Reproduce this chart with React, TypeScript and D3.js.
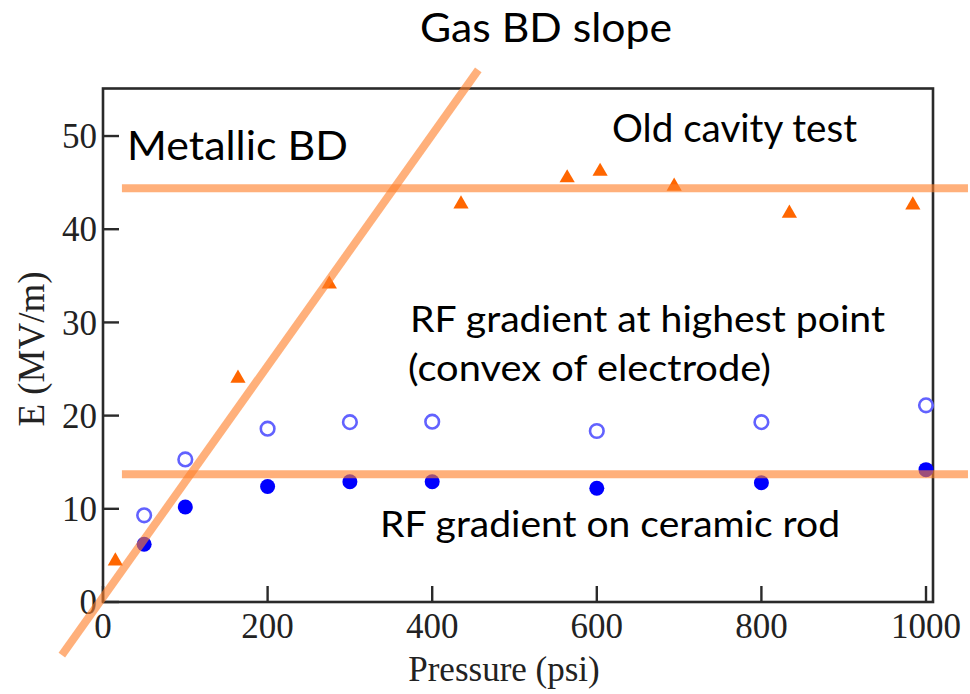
import * as d3 from "d3";

const xTicks = [0, 200, 400, 600, 800, 1000];
const yTicks = [0, 10, 20, 30, 40, 50];

// old cavity test (triangles)
const oldCavityP = [15, 164, 275, 435, 564, 604, 694, 834, 984];
const oldCavityE = [4.4, 24.0, 34.1, 42.7, 45.5, 46.2, 44.6, 41.7, 42.6];

// RF gradient, new cavity
const rfPressure = [50, 100, 200, 300, 400, 600, 800, 1000];
const highestPointE = [9.3, 15.3, 18.6, 19.3, 19.35, 18.35, 19.3, 21.1];
const ceramicRodE = [6.2, 10.2, 12.4, 12.9, 12.9, 12.2, 12.8, 14.2];

// guide lines
const gasSlope: [number, number][] = [[-50, -5.7], [456, 57.1]];
const metallicBD: [number, number][] = [[23, 44.4], [1051, 44.4]];
const rodLevel: [number, number][] = [[23, 13.7], [1051, 13.7]];

const W = 970;
const H = 694;
const left = 103, right = 933, top = 88.5, bottom = 602;

const serif = "'Liberation Serif', 'Times New Roman', serif";
const sans = "Lato, 'Open Sans', sans-serif";

export default function App() {
  const x = d3.scaleLinear().domain([0, 1008.5]).range([left, right]);
  const y = d3.scaleLinear().domain([0, 55.1]).range([bottom, top]);
  const line = d3.line<[number, number]>().x((d) => x(d[0])).y((d) => y(d[1]));
  const tri = d3.symbol(d3.symbolTriangle, 100)()!;

  const guides = [gasSlope, metallicBD, rodLevel];

  const notes = [
    { t: "Gas BD slope", x: 420, y: 42, fs: 40, len: 252 },
    { t: "Metallic BD", x: 127, y: 160, fs: 40, len: 221 },
    { t: "Old cavity test", x: 612, y: 142, fs: 38, len: 245 },
    { t: "RF gradient at highest point", x: 410, y: 332, fs: 37, len: 475 },
    { t: "(convex of electrode)", x: 408, y: 381, fs: 37, len: 363 },
    { t: "RF gradient on ceramic rod", x: 380, y: 537, fs: 37, len: 460 },
  ];

  return (
    <svg width={W} height={H} style={{ position: "absolute", left: 0, top: 0, background: "#fff" }}>
      <rect x={left} y={top} width={right - left} height={bottom - top} fill="none" stroke="#2a2a2a" strokeWidth={2.6} />

      {yTicks.map((t) => (
        <g key={"y" + t}>
          <line x1={left} x2={left + 16} y1={y(t)} y2={y(t)} stroke="#2a2a2a" strokeWidth={2.4} />
          <text x={left - 6} y={y(t)} dy="0.35em" textAnchor="end" fontFamily={serif} fontSize={35} fill="#222">
            {t}
          </text>
        </g>
      ))}
      {xTicks.map((t) => (
        <g key={"x" + t}>
          <line x1={x(t)} x2={x(t)} y1={bottom} y2={bottom - 16} stroke="#2a2a2a" strokeWidth={2.4} />
          <text x={x(t)} y={638} textAnchor="middle" fontFamily={serif} fontSize={35} fill="#222">
            {t}
          </text>
        </g>
      ))}

      <text x={504} y={681} textAnchor="middle" fontFamily={serif} fontSize={35} fill="#222">
        Pressure (psi)
      </text>
      <text transform="translate(44,349) rotate(-90)" textAnchor="middle" fontFamily={serif} fontSize={37} fill="#222">
        E (MV/m)
      </text>

      {oldCavityP.map((p, i) => (
        <path key={"t" + i} d={tri} transform={`translate(${x(p)},${y(oldCavityE[i])})`} fill="#ff6600" />
      ))}
      {rfPressure.map((p, i) => (
        <circle key={"o" + i} cx={x(p)} cy={y(highestPointE[i])} r={6.8} fill="none" stroke="#6262ff" strokeWidth={2.6} />
      ))}
      {rfPressure.map((p, i) => (
        <circle key={"f" + i} cx={x(p)} cy={y(ceramicRodE[i])} r={7.5} fill="#0000ff" />
      ))}

      {guides.map((g, i) => (
        <path key={"g" + i} d={line(g)!} fill="none" stroke="#ff7f2a" strokeOpacity={0.62} strokeWidth={8} />
      ))}

      {notes.map((n) => (
        <text
          key={n.t}
          x={n.x}
          y={n.y}
          fontFamily={sans}
          fontSize={n.fs}
          fill="#000"
          textLength={n.len}
          lengthAdjust="spacingAndGlyphs"
        >
          {n.t}
        </text>
      ))}
    </svg>
  );
}
